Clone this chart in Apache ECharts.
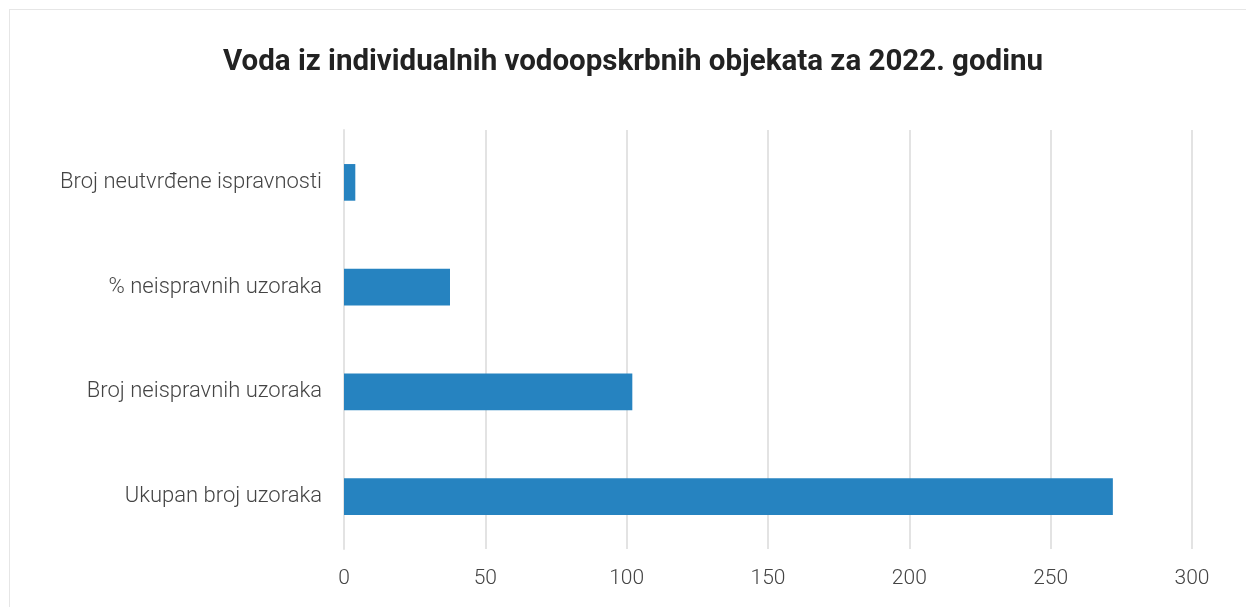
<!DOCTYPE html>
<html>
<head>
<meta charset="utf-8">
<script src="https://cdn.jsdelivr.net/npm/echarts@6/dist/echarts.min.js"></script>
<style>
  html, body { margin: 0; padding: 0; background: #fff; }
  #frame { position: absolute; left: 9px; top: 9px; width: 1300px; height: 700px; border: 1px solid #e6e6e6; }
  #chart { position: absolute; left: 0; top: 0; width: 1246px; height: 607px; }
</style>
</head>
<body>
<div id="frame"></div>
<div id="chart"></div>
<script>
const categories = [
  'Ukupan broj uzoraka',
  'Broj neispravnih uzoraka',
  '% neispravnih uzoraka',
  'Broj neutvrđene ispravnosti'
];
const values = [272, 102, 37.5, 4];
const titleText = 'Voda iz individualnih vodoopskrbnih objekata za 2022. godinu';

const chart = echarts.init(document.getElementById('chart'));

chart.setOption({
  animation: false,
  title: {
    text: titleText,
    left: 628,
    textAlign: 'center',
    top: 43,
    textStyle: {
      fontFamily: 'Roboto',
      fontWeight: 'bold',
      fontSize: 29.5,
      color: '#222'
    }
  },
  grid: {
    left: 344,
    right: 54,
    top: 130,
    bottom: 58,
    containLabel: false
  },
  xAxis: {
    type: 'value',
    min: 0,
    max: 300,
    interval: 50,
    axisLine: { show: false },
    axisTick: { show: false },
    splitLine: { lineStyle: { color: '#e3e3e3', width: 2 } },
    axisLabel: {
      margin: 19,
      fontFamily: 'Roboto',
      fontWeight: 300,
      fontSize: 21,
      color: '#444'
    }
  },
  yAxis: {
    type: 'category',
    data: categories,
    axisLine: { show: true, lineStyle: { color: '#e3e3e3', width: 2 } },
    axisTick: { show: false },
    axisLabel: {
      margin: 22,
      fontFamily: 'Roboto',
      fontWeight: 300,
      fontSize: 22,
      color: '#444'
    }
  },
  series: [{
    type: 'bar',
    data: values,
    barWidth: '35%',
    itemStyle: { color: '#2683c0' }
  }]
});
</script>
</body>
</html>
